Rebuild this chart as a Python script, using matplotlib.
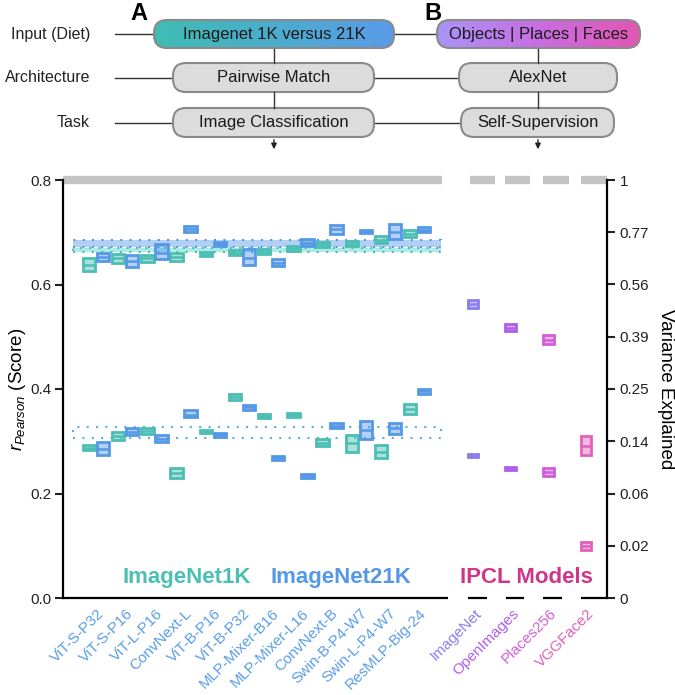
import numpy as np
import matplotlib
matplotlib.use("Agg")
import matplotlib.pyplot as plt
import matplotlib.transforms as mtrans
from matplotlib.patches import FancyBboxPatch, Rectangle
from matplotlib.colors import LinearSegmentedColormap, to_rgba

plt.rcParams['font.family'] = ['Liberation Sans', 'DejaVu Sans']
plt.rcParams['mathtext.fontset'] = 'custom'
plt.rcParams['mathtext.rm'] = 'Liberation Sans'
plt.rcParams['mathtext.it'] = 'Liberation Sans:italic'

# ---- data (q1, median, q3) ----
models = ['ViT-S-P32', 'ViT-S-P16', 'ViT-L-P16', 'ConvNext-L', 'ViT-B-P16', 'ViT-B-P32',
          'MLP-Mixer-B16', 'MLP-Mixer-L16', 'ConvNext-B', 'Swin-B-P4-W7', 'Swin-L-P4-W7',
          'ResMLP-Big-24']
ipcl_models = ['ImageNet', 'OpenImages', 'Places256', 'VGGFace2']

in1k_upper = [(0.626, 0.638, 0.651), (0.641, 0.650, 0.658), (0.643, 0.650, 0.656),
              (0.645, 0.652, 0.660), (0.655, 0.659, 0.662), (0.657, 0.661, 0.666),
              (0.658, 0.663, 0.668), (0.664, 0.669, 0.674), (0.672, 0.677, 0.681),
              (0.674, 0.678, 0.683), (0.680, 0.686, 0.693), (0.691, 0.697, 0.704)]
in21k_upper = [(0.645, 0.652, 0.660), (0.634, 0.645, 0.656), (0.649, 0.660, 0.677),
               (0.701, 0.707, 0.712), (0.674, 0.678, 0.681), (0.637, 0.650, 0.668),
               (0.636, 0.642, 0.649), (0.674, 0.680, 0.687), (0.697, 0.707, 0.714),
               (0.698, 0.701, 0.705), (0.687, 0.700, 0.716), (0.700, 0.705, 0.710)]
in1k_lower = [(0.283, 0.288, 0.293), (0.302, 0.310, 0.318), (0.314, 0.320, 0.325),
              (0.230, 0.240, 0.249), (0.315, 0.319, 0.322), (0.379, 0.385, 0.390),
              (0.345, 0.349, 0.352), (0.347, 0.351, 0.354), (0.291, 0.297, 0.304),
              (0.280, 0.296, 0.312), (0.268, 0.280, 0.293), (0.352, 0.362, 0.371)]
in21k_lower = [(0.274, 0.286, 0.298), (0.312, 0.318, 0.325), (0.299, 0.305, 0.312),
               (0.346, 0.350, 0.360), (0.308, 0.312, 0.316), (0.360, 0.365, 0.369),
               (0.264, 0.268, 0.272), (0.230, 0.234, 0.237), (0.325, 0.330, 0.335),
               (0.304, 0.322, 0.339), (0.314, 0.325, 0.335), (0.391, 0.396, 0.400)]
ipcl_upper = [(0.555, 0.563, 0.570), (0.511, 0.517, 0.524), (0.486, 0.494, 0.503),
              (0.274, 0.290, 0.310)]
ipcl_lower = [(0.269, 0.272, 0.276), (0.245, 0.248, 0.251), (0.234, 0.242, 0.249),
              (0.092, 0.100, 0.107)]

band_upper_21k = (0.671, 0.685)
band_upper_1k = (0.662, 0.669)
band_lower = (0.306, 0.327)

noise_ceiling = 0.8
right_tick_labels = ['0', '0.02', '0.06', '0.14', '0.25', '0.39', '0.56', '0.77', '1']

# ---- colours ----
c1k = '#4bbfb3'
c21k = '#5598e6'
ipcl_colors = ['#8b7df0', '#b05ee8', '#cf5fd8', '#e062bb']
model_label_color = '#5a9ee8'

fig = plt.figure(figsize=(6.75, 6.95), dpi=100)

# ---------------- header diagram (pixel coords) ----------------
hdr = fig.add_axes([0, 0, 1, 1], zorder=-1)
hdr.set_xlim(0, 675)
hdr.set_ylim(695, 0)
hdr.axis('off')

rows = [(20, 48), (63, 92), (108, 137)]
row_names = ['Input (Diet)', 'Architecture', 'Task']
colA = [(154, 394), (173, 374), (173, 374)]
colB = [(437, 640), (459, 617), (461, 614)]
textA = ['Imagenet 1K versus 21K', 'Pairwise Match', 'Image Classification']
textB = ['Objects | Places | Faces', 'AlexNet', 'Self-Supervision']
gradA = LinearSegmentedColormap.from_list('gA', ['#3fbdb3', '#5a9be8'])
gradB = LinearSegmentedColormap.from_list('gB', ['#a994f6', '#c86ee2', '#e256b4'])
line_c = '#333333'

for i, (y0, y1) in enumerate(rows):
    ym = (y0 + y1) / 2
    hdr.text(90, ym, row_names[i], ha='right', va='center', fontsize=11.5, color='#222222')
    hdr.plot([115, colA[i][0]], [ym, ym], color=line_c, lw=1)
    hdr.plot([colA[i][1], colB[i][0]], [ym, ym], color=line_c, lw=1)
    for (x0, x1), txt, cm in [(colA[i], textA[i], gradA), (colB[i], textB[i], gradB)]:
        box = FancyBboxPatch((x0, y0), x1 - x0, y1 - y0,
                             boxstyle='round,pad=0,rounding_size=13',
                             facecolor='#dcdcdc' if i else 'none',
                             edgecolor='#8a8a8a', lw=1.5, zorder=2)
        hdr.add_patch(box)
        if i == 0:
            im = hdr.imshow(np.linspace(0, 1, 256)[None, :], cmap=cm, aspect='auto',
                            extent=(x0, x1, y1, y0), zorder=1)
            im.set_clip_path(box)
            box.set_zorder(3)
        hdr.text((x0 + x1) / 2, ym, txt, ha='center', va='center', fontsize=12,
                 color='#1a1a1a', zorder=4)

for cx in [274, 538]:
    for (a, b) in [(rows[0][1], rows[1][0]), (rows[1][1], rows[2][0])]:
        hdr.plot([cx, cx], [a, b], color=line_c, lw=1)
    hdr.annotate('', xy=(cx, 152), xytext=(cx, rows[2][1]),
                 arrowprops=dict(arrowstyle='-|>', color='#222222', lw=1, mutation_scale=8))

hdr.text(139, 13, 'A', ha='center', va='center', fontsize=17, fontweight='bold')
hdr.text(433, 13, 'B', ha='center', va='center', fontsize=17, fontweight='bold')
hdr.set_xlim(0, 675)
hdr.set_ylim(695, 0)

# ---------------- main plot ----------------
ax = fig.add_axes([63 / 675, 1 - 598 / 695, (607 - 63) / 675, (598 - 180) / 695])
xmin, xmax = -1.13, 17.5
ax.set_xlim(xmin, xmax)
ax.set_ylim(0, noise_ceiling)

pos = np.arange(len(models))
ipcl_pos = 12.91 + 1.29 * np.arange(len(ipcl_models))
off = 0.24
w = 0.42


def draw_boxes(vals, positions, width, color):
    stats = [dict(q1=lo, med=md, q3=hi, whislo=lo, whishi=hi, fliers=[]) for lo, md, hi in vals]
    ax.bxp(stats, positions=positions, widths=width, patch_artist=True,
           showcaps=False, showfliers=False, manage_ticks=False,
           boxprops=dict(facecolor=to_rgba(color, 0.45), edgecolor=color, linewidth=2.0),
           medianprops=dict(color=color, linewidth=1.8),
           whiskerprops=dict(linewidth=0))


# noise-ceiling bands
bx0, bx1 = -0.8, len(models) - 0.2
ax.add_patch(Rectangle((bx0, band_upper_21k[0]), bx1 - bx0, band_upper_21k[1] - band_upper_21k[0],
                       facecolor=to_rgba(c21k, 0.45), edgecolor=c21k, lw=1.5,
                       linestyle=(0, (1, 3.5)), zorder=1))
ax.add_patch(Rectangle((bx0, band_upper_1k[0]), bx1 - bx0, band_upper_1k[1] - band_upper_1k[0],
                       facecolor=to_rgba('#5fd8d0', 0.5), edgecolor=c1k, lw=1.5,
                       linestyle=(0, (1, 3.5)), zorder=1))
ax.add_patch(Rectangle((bx0, band_lower[0]), bx1 - bx0, band_lower[1] - band_lower[0],
                       facecolor='none', edgecolor='#58aee2', lw=1.5,
                       linestyle=(0, (1, 3.5)), zorder=1))

draw_boxes(in1k_upper, pos - off, w, c1k)
draw_boxes(in1k_lower, pos - off, w, c1k)
draw_boxes(in21k_upper, pos + off, w, c21k)
draw_boxes(in21k_lower, pos + off, w, c21k)
for j, col in enumerate(ipcl_colors):
    draw_boxes([ipcl_upper[j], ipcl_lower[j]], [ipcl_pos[j]] * 2, 0.36, col)

# top grey ceiling line and bottom axis line (solid, then dashed under IPCL)
ax.hlines(noise_ceiling, xmin, 11.85, color='#c4c4c4', lw=6, clip_on=False, capstyle='butt')
for a, b in [(12.8, 13.66), (14.0, 14.86), (15.3, 16.2), (16.6, xmax)]:
    ax.hlines(noise_ceiling, a, b, color='#c4c4c4', lw=6, clip_on=False)
ax.hlines(0, xmin, 12.05, color='black', lw=1.6, clip_on=False)
for a, b in [(12.74, 13.39), (14.04, 14.66), (15.3, 15.96), (16.6, xmax)]:
    ax.hlines(0, a, b, color='black', lw=1.6, clip_on=False)

# group labels
ax.text(3.1, 0.04, 'ImageNet1K', color=c1k, fontsize=16, fontweight='bold', ha='center', va='center')
ax.text(8.4, 0.04, 'ImageNet21K', color=c21k, fontsize=16, fontweight='bold', ha='center', va='center')
ax.text(14.74, 0.04, 'IPCL Models', color='#d0358a', fontsize=16, fontweight='bold', ha='center', va='center')

for s in ['top', 'bottom', 'right']:
    ax.spines[s].set_visible(False)
ax.spines['left'].set_linewidth(1.6)
ax.set_yticks([0, 0.2, 0.4, 0.6, 0.8])
ax.set_yticklabels(['0.0', '0.2', '0.4', '0.6', '0.8'])
ax.tick_params(axis='y', length=6, width=1.5, labelsize=11, pad=2, colors='#222222')
ax.set_ylabel('$r_{Pearson}$ (Score)', fontsize=13.5, labelpad=2)

ax.set_xticks(np.concatenate([pos, ipcl_pos]))
ax.set_xticklabels(models + ipcl_models, rotation=45, ha='right', fontsize=11)
ax.tick_params(axis='x', length=0, pad=6)
shift = mtrans.ScaledTranslation(11 / 100, 0, fig.dpi_scale_trans)
for k, lab in enumerate(ax.get_xticklabels()):
    lab.set_color(model_label_color if k < len(models) else ipcl_colors[k - len(models)])
    lab.set_transform(lab.get_transform() + shift)

ax2 = ax.twinx()
ax2.set_ylim(0, noise_ceiling)
ax2.set_yticks(np.linspace(0, noise_ceiling, len(right_tick_labels)))
ax2.set_yticklabels(right_tick_labels)
for s in ['top', 'bottom', 'left']:
    ax2.spines[s].set_visible(False)
ax2.spines['right'].set_linewidth(1.6)
ax2.tick_params(axis='y', length=6, width=1.5, labelsize=11, pad=3, colors='#222222')
ax2.set_ylabel('Variance Explained', fontsize=13.5, rotation=-90, va='bottom', labelpad=6)

fig.savefig('out.png', dpi=100)
